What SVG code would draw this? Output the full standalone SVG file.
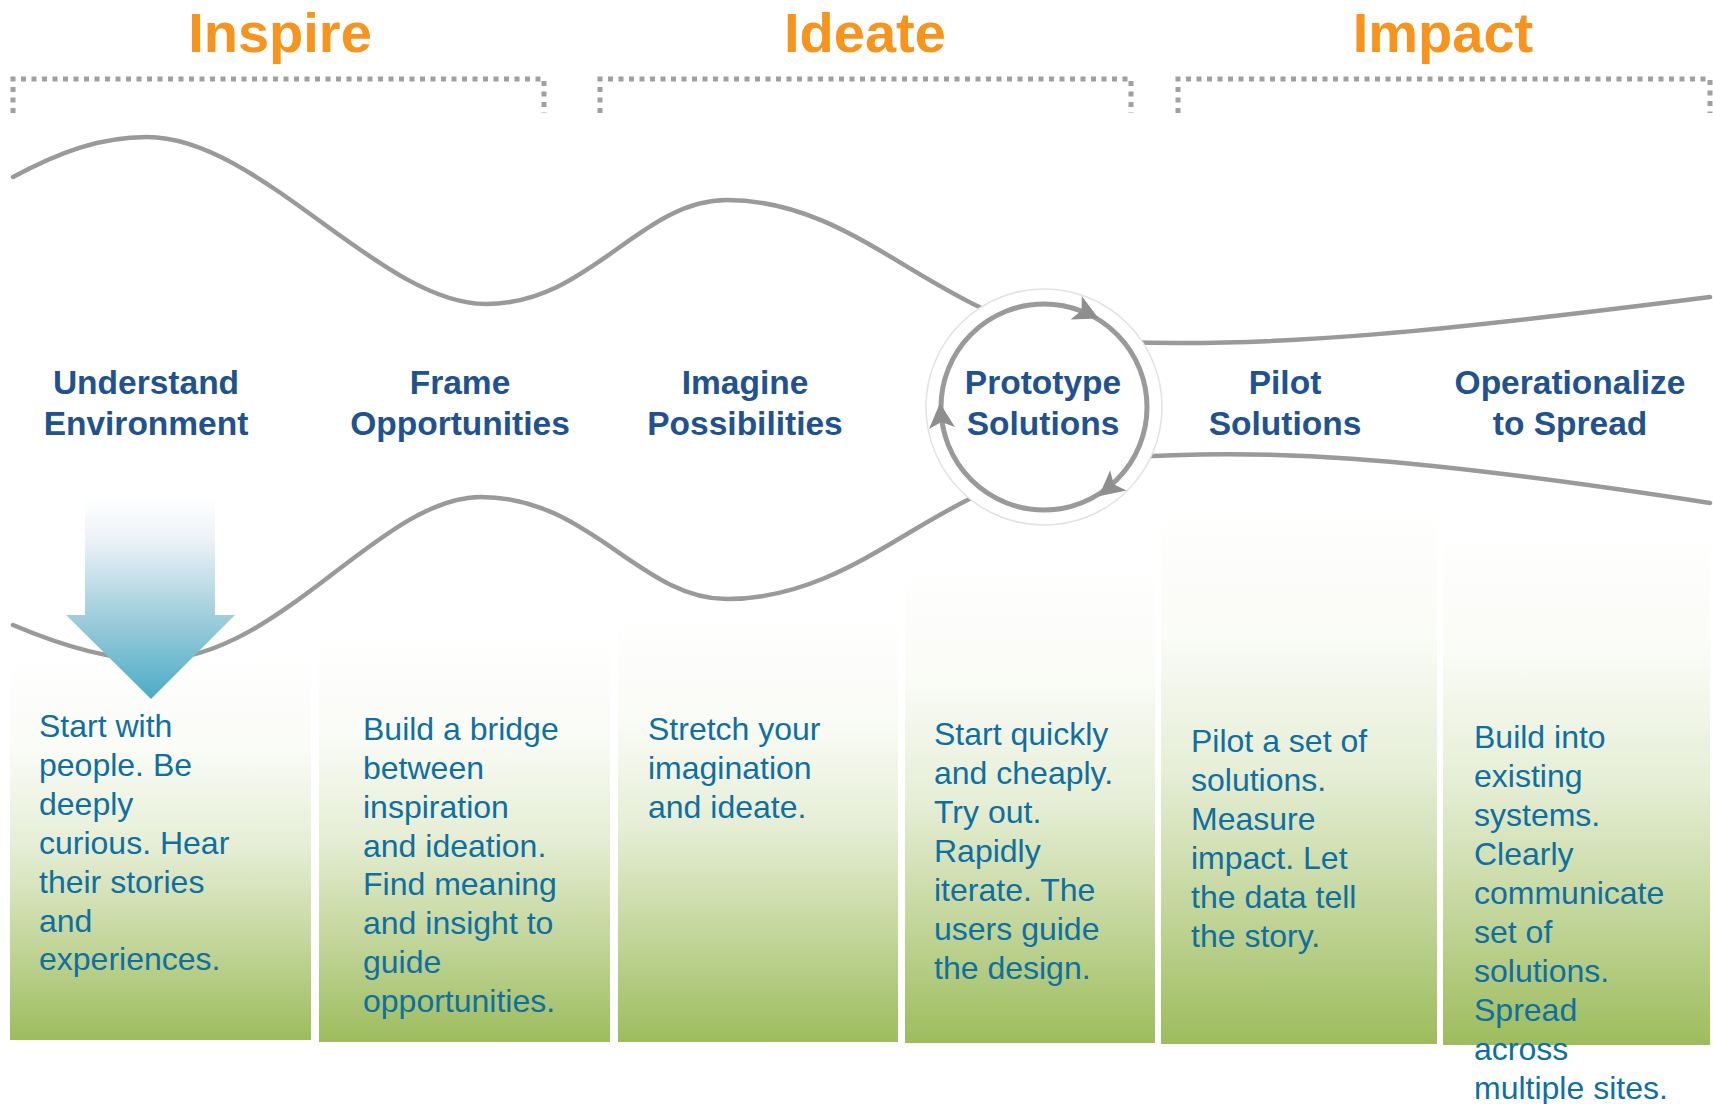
<svg xmlns="http://www.w3.org/2000/svg" xmlns:xlink="http://www.w3.org/1999/xlink" width="1713" height="1104" viewBox="0 0 1713 1104">
<style>
.title{font-family:"Liberation Sans",Arial,sans-serif;font-weight:bold;font-size:56px;fill:#F7941D;text-anchor:middle}
.bracket{fill:none;stroke:#A0A0A0;stroke-width:5;stroke-dasharray:5 5.5}
.wave{fill:none;stroke:#9A9A9A;stroke-width:4.5;stroke-linecap:round}
.label{font-family:"Liberation Sans",Arial,sans-serif;font-weight:bold;font-size:33.5px;fill:#21528F;text-anchor:middle}
.body{font-family:"Liberation Sans",Arial,sans-serif;font-size:32px;fill:#0F6FA0}
.box{fill:url(#green)}
.ring{fill:none;stroke:#9A9A9A;stroke-width:5}
.ah{fill:#8E8E8E}
</style>
<defs>
<linearGradient id="green" x1="0" y1="0" x2="0" y2="1">
<stop offset="0" stop-color="#9BBB59" stop-opacity="0"/>
<stop offset="0.25" stop-color="#9BBB59" stop-opacity="0.05"/>
<stop offset="0.5" stop-color="#9BBB59" stop-opacity="0.25"/>
<stop offset="0.75" stop-color="#9BBB59" stop-opacity="0.6"/>
<stop offset="1" stop-color="#9BBB59" stop-opacity="0.98"/>
</linearGradient>
<linearGradient id="blue" gradientUnits="userSpaceOnUse" x1="0" y1="497" x2="0" y2="699">
<stop offset="0" stop-color="#FFFFFF"/>
<stop offset="0.2" stop-color="#EEF3F8"/>
<stop offset="0.55" stop-color="#A9D1DE"/>
<stop offset="1" stop-color="#4BACC6"/>
</linearGradient>
<path id="ahead" d="M13,0 L-12,-13 L-6,0 L-12,13 Z"/>
</defs>
<rect width="1713" height="1104" fill="#FFFFFF"/>

<g id="phase-inspire">
<text class="title" x="280" y="52">Inspire</text>
<path class="bracket" d="M13,113 V79 H544 V113"/>
</g>
<g id="phase-ideate">
<text class="title" x="865" y="52">Ideate</text>
<path class="bracket" d="M600,113 V79 H1131 V113"/>
</g>
<g id="phase-impact">
<text class="title" x="1443" y="52">Impact</text>
<path class="bracket" d="M1178,113 V79 H1710 V113"/>
</g>

<g id="connectors">
<path class="wave" d="M13,177 C60,152 100,137 147,137 C260,137 380,304 486,304 C590,304 640,200 727,200 C830,200 900,272 990,312"/>
<path class="wave" d="M13,625 C60,645 110,660 153,660 C280,660 380,497 481,497 C590,497 640,599 727,599 C830,599 900,530 980,494"/>
<path class="wave" d="M1120,342 C1280,348 1450,330 1710,297"/>
<path class="wave" d="M1120,458 C1260,448 1400,455 1710,503"/>
</g>

<g id="node-understand">
<rect class="box" x="10" y="650" width="301" height="390"/>
<path d="M85,497 H215 V615 H235 L151,699 L66,615 H85 Z" fill="url(#blue)"/>
<text class="label" x="146" y="394">Understand</text>
<text class="label" x="146" y="435">Environment</text>
<text class="body" x="39"><tspan x="39" y="737">Start with</tspan><tspan x="39" y="776">people. Be</tspan><tspan x="39" y="815">deeply</tspan><tspan x="39" y="854">curious. Hear</tspan><tspan x="39" y="893">their stories</tspan><tspan x="39" y="932">and</tspan><tspan x="39" y="970">experiences.</tspan></text>
</g>

<g id="node-frame">
<rect class="box" x="319" y="630" width="291" height="412"/>
<text class="label" x="460" y="394">Frame</text>
<text class="label" x="460" y="435">Opportunities</text>
<text class="body"><tspan x="363" y="740">Build a bridge</tspan><tspan x="363" y="779">between</tspan><tspan x="363" y="818">inspiration</tspan><tspan x="363" y="857">and ideation.</tspan><tspan x="363" y="895">Find meaning</tspan><tspan x="363" y="934">and insight to</tspan><tspan x="363" y="973">guide</tspan><tspan x="363" y="1012">opportunities.</tspan></text>
</g>

<g id="node-imagine">
<rect class="box" x="618" y="610" width="280" height="432"/>
<text class="label" x="745" y="394">Imagine</text>
<text class="label" x="745" y="435">Possibilities</text>
<text class="body"><tspan x="648" y="740">Stretch your</tspan><tspan x="648" y="779">imagination</tspan><tspan x="648" y="818">and ideate.</tspan></text>
</g>

<g id="node-prototype">
<rect class="box" x="905" y="560" width="250" height="483"/>
<circle cx="1044" cy="407" r="118" fill="#FFFFFF" stroke="#E2E2E2" stroke-width="1.5"/>
<circle class="ring" cx="1044" cy="407" r="103"/>
<use href="#ahead" class="ah" transform="translate(1087,313) rotate(25.5)"/>
<use href="#ahead" class="ah" transform="translate(1109,488) rotate(141)"/>
<use href="#ahead" class="ah" transform="translate(941,416) rotate(-94.5)"/>
<text class="label" x="1043" y="394">Prototype</text>
<text class="label" x="1043" y="435">Solutions</text>
<text class="body"><tspan x="934" y="745">Start quickly</tspan><tspan x="934" y="784">and cheaply.</tspan><tspan x="934" y="823">Try out.</tspan><tspan x="934" y="862">Rapidly</tspan><tspan x="934" y="901">iterate. The</tspan><tspan x="934" y="940">users guide</tspan><tspan x="934" y="979">the design.</tspan></text>
</g>

<g id="node-pilot">
<rect class="box" x="1161" y="500" width="276" height="544"/>
<text class="label" x="1285" y="394">Pilot</text>
<text class="label" x="1285" y="435">Solutions</text>
<text class="body"><tspan x="1191" y="752">Pilot a set of</tspan><tspan x="1191" y="791">solutions.</tspan><tspan x="1191" y="830">Measure</tspan><tspan x="1191" y="869">impact. Let</tspan><tspan x="1191" y="908">the data tell</tspan><tspan x="1191" y="947">the story.</tspan></text>
</g>

<g id="node-operationalize">
<rect class="box" x="1443" y="520" width="267" height="525"/>
<text class="label" x="1570" y="394">Operationalize</text>
<text class="label" x="1570" y="435">to Spread</text>
<text class="body"><tspan x="1474" y="748">Build into</tspan><tspan x="1474" y="787">existing</tspan><tspan x="1474" y="826">systems.</tspan><tspan x="1474" y="865">Clearly</tspan><tspan x="1474" y="904">communicate</tspan><tspan x="1474" y="943">set of</tspan><tspan x="1474" y="982">solutions.</tspan><tspan x="1474" y="1021">Spread</tspan><tspan x="1474" y="1060">across</tspan><tspan x="1474" y="1099">multiple sites.</tspan></text>
</g>
</svg>
